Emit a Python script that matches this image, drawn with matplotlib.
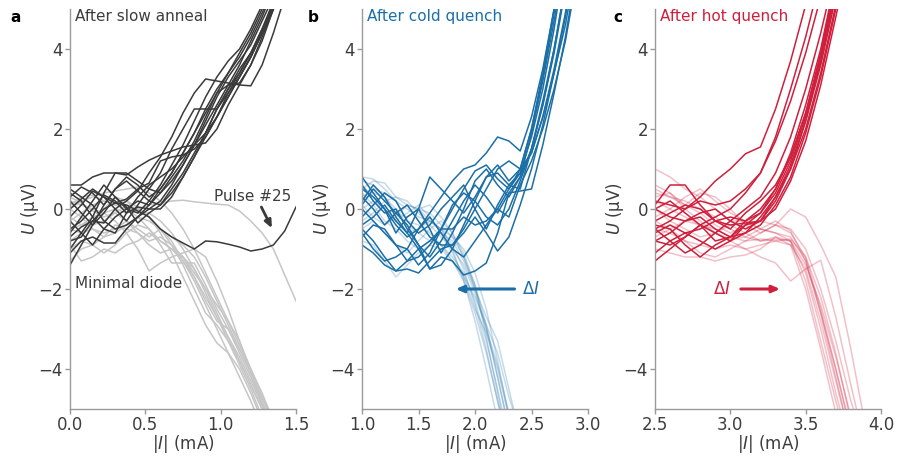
import matplotlib
matplotlib.use("Agg")
import matplotlib.pyplot as plt

# ---------------- data ----------------
# current sweep grids (mA)
I_a = [0.0, 0.075, 0.15, 0.225, 0.3, 0.375, 0.45, 0.525, 0.6, 0.675, 0.75,
       0.825, 0.9, 0.975, 1.05, 1.125, 1.2, 1.275, 1.35, 1.425, 1.5]
I_b = [1.0, 1.1, 1.2, 1.3, 1.4, 1.5, 1.6, 1.7, 1.8, 1.9, 2.0,
       2.1, 2.2, 2.3, 2.4, 2.5, 2.6, 2.7, 2.8, 2.9, 3.0]
I_c = [2.5, 2.6, 2.7, 2.8, 2.9, 3.0, 3.1, 3.2, 3.3, 3.4, 3.5,
       3.6, 3.7, 3.8, 3.9, 4.0]

# panel a: after slow anneal (voltage in uV)
a_dark = [
    [0.6, 0.6, 0.8, 0.9, 0.9, 0.85, 1.05, 1.22, 1.35, 1.45, 1.55, 1.6, 1.65, 2.0, 2.6, 3.1, 3.6, 4.2, 5.0, 5.8],
    [0.3, 0.55, 0.4, 0.1, 0.5, 0.7, 0.45, 0.9, 1.3, 1.8, 2.4, 2.9, 3.25, 3.2, 3.15, 3.1, 3.08, 3.6, 4.4, 5.3],
    [-0.2, 0.1, 0.45, 0.3, 0.0, -0.3, 0.1, 0.5, 0.9, 1.5, 2.0, 2.5, 2.5, 2.5, 2.9, 3.3, 3.8, 4.4, 5.1],
    [-0.5, -0.3, 0.0, 0.35, 0.2, -0.1, 0.3, 0.6, 0.8, 1.0, 1.3, 1.6, 1.9, 2.3, 2.8, 3.3, 3.8, 4.4, 5.0, 5.6],
    [0.0, 0.25, 0.5, 0.3, 0.15, 0.25, 0.5, 0.65, 1.2, 1.3, 1.35, 1.5, 1.8, 2.3, 2.9, 3.4, 3.9, 4.5, 5.2],
    [-1.4, -0.9, -0.4, 0.1, 0.5, 0.8, 0.6, 0.3, 0.5, 0.9, 1.4, 1.9, 2.4, 2.9, 3.1, 3.15, 3.6, 4.3, 5.0, 5.7],
    [-1.0, -0.6, -0.2, 0.4, 0.9, 0.9, 0.7, 0.5, 0.4, 0.7, 1.1, 1.6, 2.1, 2.6, 3.1, 3.6, 4.2, 4.8, 5.5],
    [-0.8, -0.7, -0.3, -0.35, 0.0, 0.2, 0.45, 0.2, 0.1, 0.5, 0.9, 1.4, 1.9, 2.5, 3.0, 3.5, 3.9, 4.4, 5.0, 5.7],
    [0.4, 0.2, -0.2, -0.5, -0.6, -0.1, 0.05, 0.0, 0.2, 0.6, 1.1, 1.6, 2.2, 2.8, 3.3, 3.7, 4.1, 4.7, 5.3],
    [-0.3, -0.6, -0.9, -0.5, -0.2, 0.0, -0.1, 0.2, 0.6, 1.1, 1.6, 2.2, 2.8, 3.3, 3.7, 4.0, 4.5, 5.1],
    [0.2, -0.1, -0.4, -0.1, 0.3, 0.05, -0.35, -0.1, 0.1, 0.4, 0.8, 1.3, 1.9, 2.5, 3.0, 3.4, 3.9, 4.5, 5.1, 5.8],
    [-1.1, -0.8, -0.7, -0.85, -0.85, -0.5, -0.2, 0.1, 0.5, 0.9, 1.4, 1.9, 2.5, 3.0, 3.4, 3.8, 4.3, 4.9, 5.5],
    [0.5, 0.3, 0.1, -0.3, -0.5, -0.4, -0.2, 0.0, 0.0, 0.3, 0.8, 1.3, 1.8, 2.3, 2.8, 3.3, 3.8, 4.4, 5.0, 5.6],
    [-0.6, -0.2, 0.2, 0.6, 0.3, 0.0, 0.2, 0.1, 0.4, 0.8, 1.2, 1.7, 2.3, 2.9, 3.4, 3.9, 4.4, 5.0, 5.7],
]
a_pulse25 = [-0.7, -0.45, -0.3, 0.0, 0.15, 0.1, -0.05, -0.2, -0.5, -0.7, -0.85,
             -1.0, -0.8, -0.82, -0.88, -0.95, -1.05, -1.0, -0.9, -0.55, 0.05]
a_light = [
    [0.0, 0.2, 0.3, 0.4, 0.45, 0.5, 0.55, 0.4, 0.2, -0.1, -0.5, -1.0, -1.6, -2.2, -2.8, -3.4, -4.0, -4.6, -5.3],
    [-0.3, -0.1, 0.1, 0.2, 0.1, 0.0, -0.2, -0.5, -0.9, -1.35, -1.35, -1.35, -1.9, -2.5, -3.0, -3.6, -4.2, -4.9, -5.6],
    [-1.3, -1.0, -0.9, -0.7, -0.4, -0.5, -0.6, -0.8, -0.7, -0.9, -1.2, -1.6, -2.0, -2.4, -2.8, -3.3, -4.0, -4.7, -5.4],
    [0.2, 0.1, 0.0, -0.1, -0.3, -0.6, -1.0, -1.55, -1.35, -1.2, -1.1, -1.0, -1.2, -1.8, -2.5, -3.3, -4.1, -4.9, -5.6],
    [-0.5, -0.6, -0.4, -0.3, -0.1, 0.1, 0.0, -0.2, -0.5, -0.9, -1.4, -2.0, -2.6, -2.9, -3.3, -3.8, -4.4, -5.0, -5.6],
    [0.1, 0.3, 0.35, 0.2, 0.1, 0.2, 0.05, -0.2, -0.6, -1.1, -1.7, -2.3, -2.9, -3.35, -3.6, -4.0, -4.6, -5.3],
    [-0.8, -0.6, -0.5, -0.6, -0.5, -0.3, -0.5, -0.7, -0.5, -0.7, -0.9, -1.2, -1.7, -2.3, -2.9, -3.5, -4.1, -4.7, -5.3],
    [-0.2, -0.4, -0.3, 0.0, 0.3, 0.2, -0.1, -0.1, -0.3, -0.6, -1.0, -1.5, -2.1, -2.7, -3.2, -3.7, -4.3, -4.9, -5.5],
    [0.3, 0.15, -0.05, -0.2, -0.1, -0.3, -0.6, -0.9, -1.1, -1.0, -1.2, -1.7, -2.3, -2.8, -3.0, -3.5, -4.1, -4.8, -5.5],
    [-0.5, -0.4, -0.2, -0.1, 0.0, -0.1, 0.0, 0.1, 0.15, 0.2, 0.22, 0.18, 0.15, 0.12, 0.1, -0.05, -0.3, -0.6, -1.0, -1.65, -2.3],
    [-1.0, -0.8, -0.9, -1.1, -0.9, -0.6, -0.4, -0.5, -0.8, -1.0, -1.2, -1.5, -2.0, -2.6, -3.2, -3.8, -4.4, -5.0, -5.7],
    [0.0, -0.2, -0.5, -0.7, -0.6, -0.4, -0.2, -0.3, -0.5, -0.8, -1.3, -1.8, -2.4, -3.0, -3.6, -4.2, -4.8, -5.5],
    [-0.9, -1.3, -1.2, -1.0, -1.1, -0.9, -0.8, -0.6, -0.8, -1.0, -1.3, -1.7, -2.2, -2.7, -3.3, -3.9, -4.5, -5.2],
]

# panel b: after cold quench
b_dark = [
    [0.8, 0.4, 0.0, -0.4, -0.7, -0.5, -0.1, 0.3, 0.7, 1.0, 1.1, 1.4, 1.8, 1.7, 1.45, 2.3, 3.5, 5.0, 6.6],
    [0.2, 0.6, 0.3, -0.2, -0.6, 0.0, 0.8, 0.5, 0.2, -0.1, 0.3, 0.8, 0.9, 0.6, 0.5, 1.5, 2.7, 4.0, 5.6],
    [-0.9, -1.1, -1.4, -1.55, -1.5, -1.6, -1.3, -1.0, -0.9, -0.5, 0.0, 0.5, 1.0, 1.2, 1.0, 1.4, 2.3, 3.4, 4.6, 6.2],
    [-0.5, -0.8, -1.2, -1.55, -1.3, -1.0, -1.5, -1.2, -1.3, -1.65, -1.55, -1.35, -0.6, 0.4, 0.45, 0.5, 1.6, 2.9, 4.3, 6.0],
    [0.6, 0.2, -0.1, 0.0, -0.5, -0.9, -1.2, -0.8, -0.3, 0.2, 0.6, 0.3, -0.1, 0.4, 0.8, 1.5, 2.6, 3.9, 5.5],
    [-0.2, 0.1, 0.4, 0.2, -0.3, -0.6, -0.4, 0.0, 0.3, 0.6, 0.0, -0.5, 0.1, 0.6, 0.9, 1.8, 3.0, 4.5, 6.3],
    [0.0, -0.3, -0.6, -0.9, -1.0, -1.4, -1.1, -0.5, 0.0, 0.5, 0.95, 1.1, 0.75, 0.5, 1.0, 2.0, 3.3, 4.9, 6.6],
    [-0.7, -0.4, -0.5, -0.9, -1.3, -1.2, -0.9, -0.5, -0.5, -0.2, -0.4, -0.3, 0.0, -0.2, 0.6, 1.2, 2.0, 3.0, 4.2, 5.8],
    [0.3, 0.0, -0.4, -0.1, 0.1, -0.3, -0.7, -0.9, -0.9, -0.6, -0.2, -0.6, -1.05, -0.7, 0.1, 1.0, 2.1, 3.4, 4.8, 6.5],
    [-0.4, -0.2, 0.1, -0.3, -0.6, -1.0, -0.8, -0.5, 0.1, 0.4, 0.2, -0.2, -0.4, 0.0, 0.7, 1.5, 2.6, 4.0, 5.6],
    [0.5, 0.3, 0.0, -0.6, -0.2, 0.0, -0.5, -1.1, -0.6, 0.0, 0.7, 1.0, 0.6, 0.3, 0.8, 1.9, 3.2, 4.7, 6.4],
    [-0.6, -1.0, -1.3, -1.2, -1.0, -0.5, -0.2, -0.6, -1.0, -1.2, -0.8, -0.4, 0.0, 0.5, 0.9, 1.4, 2.3, 3.5, 4.9, 6.6],
    [0.1, 0.5, 0.2, -0.1, -0.4, -0.9, -1.5, -1.4, -1.0, -0.4, 0.2, 0.8, 1.1, 0.7, 1.0, 2.0, 3.4, 5.0],
]
b_light = [
    [0.8, 0.75, 0.5, 0.2, 0.0, -0.2, -0.3, -0.5, -1.0, -1.8, -2.6, -3.6, -4.8, -6.0],
    [0.5, 0.7, 0.65, 0.3, 0.1, 0.0, 0.1, -0.2, -0.6, -1.2, -2.0, -3.0, -4.2, -5.5],
    [0.2, 0.4, 0.3, 0.0, -0.4, -0.6, -0.8, -0.9, -1.2, -1.6, -2.3, -3.3, -4.5, -5.8],
    [-0.3, -0.1, 0.2, 0.3, 0.2, -0.1, -0.4, -0.7, -1.0, -1.4, -2.1, -3.0, -3.9, -5.1],
    [-0.8, -0.9, -1.3, -1.7, -1.4, -1.1, -0.9, -1.0, -1.3, -1.8, -2.8, -4.0, -5.3],
    [0.6, 0.3, 0.0, -0.3, -0.6, -0.5, -0.3, -0.5, -0.9, -1.5, -2.4, -3.5, -4.8, -6.0],
    [0.0, 0.2, 0.0, -0.3, -0.1, 0.1, -0.2, -0.6, -1.1, -1.7, -2.5, -3.1, -4.0, -5.2],
    [0.4, 0.1, -0.3, -0.5, -0.8, -1.0, -0.8, -0.6, -0.8, -1.3, -2.0, -2.7, -3.3, -4.5, -5.7],
    [0.7, 0.6, 0.3, -0.1, -0.2, 0.0, -0.1, -0.4, -0.7, -1.0, -1.6, -2.5, -3.8, -5.2],
    [-0.5, -0.3, -0.6, -0.9, -1.1, -0.8, -0.5, -0.3, -0.6, -1.1, -1.9, -2.9, -4.2, -5.5],
    [0.3, 0.5, 0.4, 0.2, -0.3, -0.4, -0.6, -0.9, -1.3, -1.7, -2.2, -2.9, -3.6, -4.7, -5.6],
    [0.1, -0.2, -0.4, -0.2, 0.1, 0.0, -0.3, -0.5, -0.7, -1.2, -1.9, -3.2, -4.6, -6.0],
]

# panel c: after hot quench
c_dark = [
    [0.2, 0.1, 0.0, 0.3, 0.7, 1.0, 1.38, 1.55, 2.5, 3.7, 5.1],
    [-0.5, -0.3, 0.0, 0.2, 0.1, 0.2, 0.5, 0.9, 1.8, 3.0, 4.3, 5.8],
    [-1.3, -1.0, -0.7, -0.4, -0.2, 0.0, 0.4, 0.9, 1.7, 2.7, 3.9, 5.3],
    [0.1, 0.6, 0.6, 0.1, -0.3, -0.4, -0.35, -0.3, 0.2, 1.0, 2.2, 3.7, 5.5],
    [-0.8, -0.6, -0.3, -0.2, -0.5, -0.7, -0.6, -0.4, 0.1, 0.8, 1.9, 3.3, 5.0],
    [-0.4, -0.5, -0.9, -1.2, -0.9, -0.7, -0.3, 0.0, 0.5, 1.3, 2.4, 3.8, 5.6],
    [0.0, -0.2, -0.3, -0.1, 0.0, -0.3, -0.5, -0.3, 0.3, 1.1, 2.2, 3.6, 5.3],
    [-1.1, -0.8, -0.6, -0.8, -1.0, -0.8, -0.4, -0.1, 0.4, 1.2, 2.3, 3.7, 5.4],
    [-0.5, -0.8, -1.1, -0.9, -0.6, -0.3, 0.0, 0.3, 0.9, 1.8, 3.0, 4.4, 6.0],
    [0.0, 0.2, -0.1, -0.4, -0.6, -0.8, -0.6, -0.2, 0.3, 1.0, 2.0, 3.4, 5.1],
    [-0.8, -0.9, -0.7, -0.4, -0.8, -0.7, -0.4, -0.3, 0.0, 0.7, 1.7, 3.1, 4.8, 6.6],
    [-0.3, -0.1, 0.1, 0.0, -0.3, -0.2, -0.3, -0.1, 0.5, 1.4, 2.6, 4.0, 5.8],
    [-0.6, -0.4, -0.6, -0.5, -0.3, -0.5, -0.1, 0.2, 0.6, 1.3, 2.4, 3.9, 5.7],
]
c_light = [
    [1.0, 0.8, 0.5, 0.3, 0.0, -0.3, -0.3, -0.5, -0.6, -0.8, -1.8, -3.3, -4.8, -6.2],
    [0.4, 0.3, 0.1, 0.4, 0.3, 0.0, -0.4, -0.6, -0.4, 0.0, -0.2, -0.9, -1.7, -3.5, -5.5],
    [-0.5, -0.6, -0.8, -0.9, -1.0, -0.9, -1.0, -1.2, -1.35, -1.8, -1.5, -1.28, -2.7, -4.4, -6.0],
    [0.2, 0.0, -0.2, -0.4, -0.5, -0.7, -0.8, -0.75, -0.8, -0.9, -2.0, -3.5, -5.1],
    [-1.0, -1.1, -1.2, -1.2, -1.3, -1.2, -1.15, -1.0, -0.7, -0.8, -1.6, -3.0, -4.6, -6.0],
    [0.5, 0.3, 0.2, 0.0, -0.2, -0.5, -0.7, -0.8, -0.7, -0.9, -1.5, -2.8, -4.3, -5.8],
    [-0.2, 0.0, 0.3, 0.5, 0.2, -0.1, -0.3, -0.5, -0.6, -0.7, -1.3, -2.6, -4.0, -5.6],
    [0.0, -0.3, -0.5, -0.7, -0.6, -0.4, -0.6, -0.8, -0.75, -0.8, -1.4, -2.4, -3.7, -5.2],
    [-0.7, -0.5, -0.3, -0.4, -0.6, -0.8, -1.0, -0.9, -0.8, -0.75, -1.2, -2.2, -3.6, -5.3],
    [0.3, 0.4, 0.1, -0.1, -0.4, -0.6, -0.4, -0.3, -0.4, -0.5, -1.0, -2.0, -3.3, -4.8, -6.0],
    [-0.3, -0.5, -0.8, -1.1, -1.2, -1.0, -0.8, -0.6, -0.4, -0.6, -1.2, -2.5, -4.0, -5.5],
    [0.6, 0.4, 0.0, -0.3, -0.6, -0.75, -0.7, -0.5, -0.3, -0.55, -1.3, -2.6, -4.2, -5.8],
]

panel_titles = ["After slow anneal", "After cold quench", "After hot quench"]
panel_letters = ["a", "b", "c"]
xlims = [(0.0, 1.5), (1.0, 3.0), (2.5, 4.0)]
xticks = [[0.0, 0.5, 1.0, 1.5], [1.0, 1.5, 2.0, 2.5, 3.0], [2.5, 3.0, 3.5, 4.0]]
yticks = [-4, -2, 0, 2, 4]

# ---------------- style ----------------
DARK = "#3a3a3a"
LIGHTGRAY = "#c6c6c6"
BLUE = "#1b6fa6"
RED = "#cf1f3c"
TXT = "#3d3d3d"
SPINE = "#9a9a9a"

plt.rcParams["font.family"] = ["DejaVu Sans"]
fig = plt.figure(figsize=(8.97, 4.59), dpi=100)

lefts = [70 / 897, 362 / 897, 655 / 897]
width = 226 / 897
bottom = 1 - 409 / 459
height = 400 / 459

axes = [fig.add_axes([l, bottom, width, height]) for l in lefts]

panels = [
    (I_a, a_light, a_dark, LIGHTGRAY, 1.0, DARK),
    (I_b, b_light, b_dark, BLUE, 0.25, BLUE),
    (I_c, c_light, c_dark, RED, 0.28, RED),
]

for k, (ax, (grid, light, dark, lc, lalpha, dc)) in enumerate(zip(axes, panels)):
    for y in light:
        ax.plot(grid[:len(y)], y, color=lc, alpha=lalpha, lw=1.1, zorder=1)
    for y in dark:
        ax.plot(grid[:len(y)], y, color=dc, lw=1.1, zorder=2)
    if k == 0:
        ax.plot(grid[:len(a_pulse25)], a_pulse25, color=dc, lw=1.1, zorder=2)
    ax.set_xlim(*xlims[k])
    ax.set_ylim(-5, 5)
    ax.set_xticks(xticks[k])
    ax.set_xticklabels([f"{v:.1f}" for v in xticks[k]])
    ax.set_yticks(yticks)
    ax.set_yticklabels([f"{v}".replace("-", "\u2212") for v in yticks])
    for s in ["top", "right"]:
        ax.spines[s].set_visible(False)
    for s in ["left", "bottom"]:
        ax.spines[s].set_color(SPINE)
        ax.spines[s].set_linewidth(1.0)
    ax.tick_params(axis="both", colors=SPINE, labelcolor=TXT, labelsize=12,
                   length=3.5, width=1.0, pad=1.5)
    ax.set_xlabel(r"|$I$| (mA)", fontsize=12, color=TXT, labelpad=-1)
    ax.set_ylabel(r"$U$ (µV)", fontsize=12, color=TXT, labelpad=-2)
    tcol = [TXT, BLUE, RED][k]
    ax.text(0.02, 1.0, panel_titles[k], transform=ax.transAxes, ha="left",
            va="top", fontsize=11, color=tcol)

# panel letters
for letter, xpix in zip(panel_letters, [10, 308, 613]):
    fig.text(xpix / 897, 1 - 18 / 459, letter, fontsize=11, fontweight="bold", va="center")

# annotations panel a
axa = axes[0]
axa.text(0.03, -1.87, "Minimal diode", fontsize=11, color=TXT, va="center", ha="left")
axa.text(1.47, 0.3, "Pulse #25", fontsize=11, color=TXT, va="center", ha="right")
axa.annotate("", xy=(1.34, -0.48), xytext=(1.27, 0.05),
             arrowprops=dict(arrowstyle="-|>,head_length=0.45,head_width=0.2",
                             color=DARK, lw=2.0, shrinkA=0, shrinkB=0))

# annotations panel b
axb = axes[1]
axb.annotate("", xy=(1.83, -2.0), xytext=(2.35, -2.0),
             arrowprops=dict(arrowstyle="-|>,head_length=0.45,head_width=0.2",
                             color=BLUE, lw=2.2, shrinkA=0, shrinkB=0))
axb.text(2.42, -2.0, r"Δ$I$", fontsize=12, color=BLUE, va="center", ha="left")

# annotations panel c
axc = axes[2]
axc.annotate("", xy=(3.33, -2.0), xytext=(3.07, -2.0),
             arrowprops=dict(arrowstyle="-|>,head_length=0.45,head_width=0.2",
                             color=RED, lw=2.2, shrinkA=0, shrinkB=0))
axc.text(3.0, -2.0, r"Δ$I$", fontsize=12, color=RED, va="center", ha="right")

fig.savefig("out.png", dpi=100)
